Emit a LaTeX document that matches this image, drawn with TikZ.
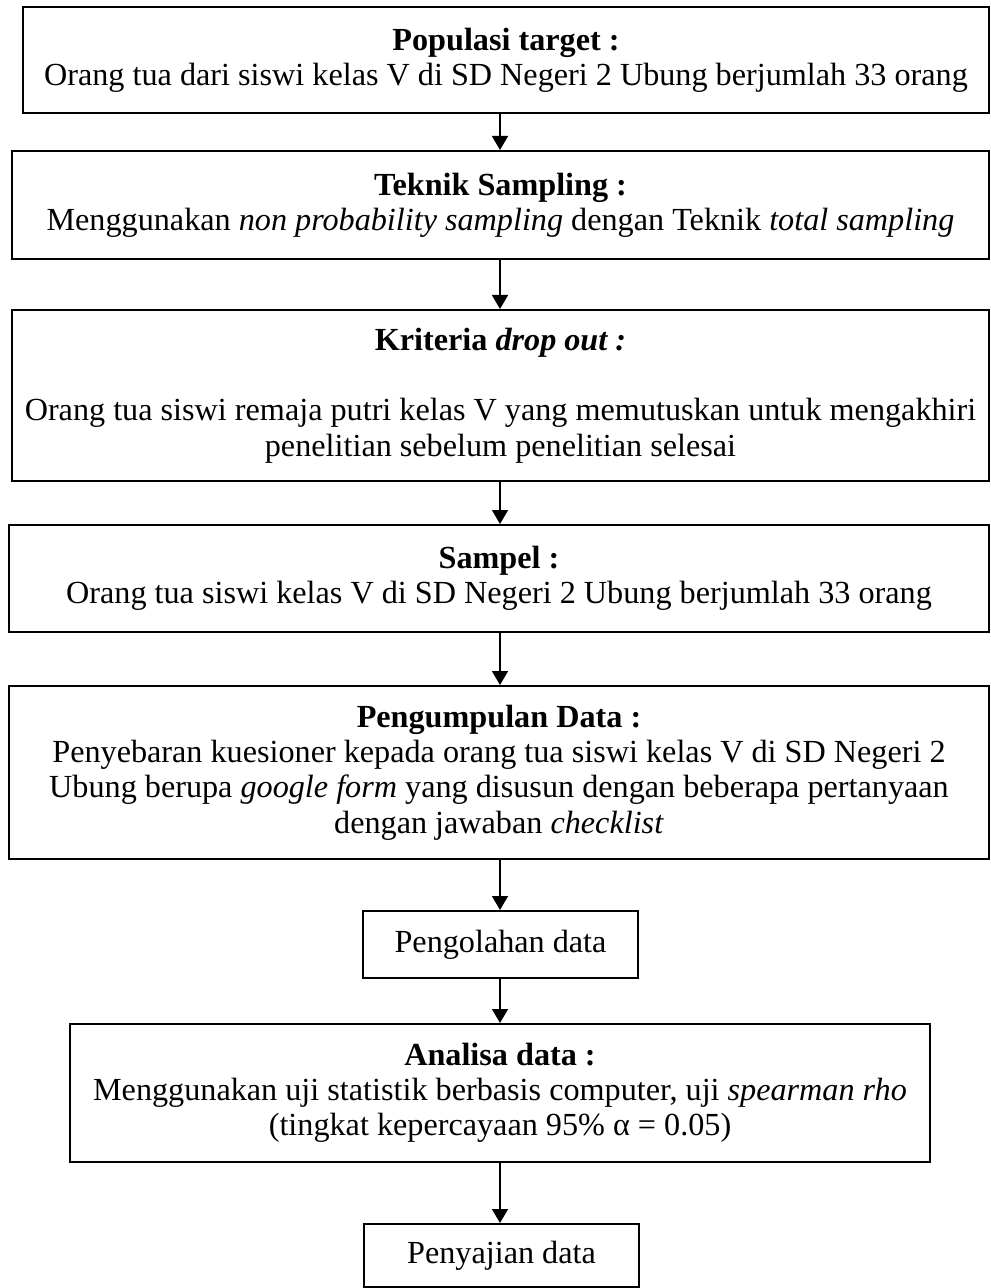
\documentclass[tikz,border=0pt]{standalone}
\usepackage{fontspec}
\setmainfont{Liberation Serif}
\usetikzlibrary{arrows.meta}
\begin{document}
\begin{tikzpicture}[x=0.5pt,y=-0.5pt,
  flowbox/.style={draw=black, line width=1pt, inner sep=0pt, align=center, anchor=north west,
    font=\fontsize{16.1}{17.6}\selectfont},
  flowarrow/.style={-{Triangle[length=7pt,width=8pt]}, line width=0.75pt}]
\useasboundingbox (0,0) rectangle (990,1288);
\coordinate (ax) at (500,0);
\node[flowbox, minimum width=483pt, minimum height=53pt] (pop) at (22,6)
  {\textbf{Populasi target :}\\Orang tua dari siswi kelas V di SD Negeri 2 Ubung berjumlah 33 orang};
\node[flowbox, minimum width=488.5pt, minimum height=54pt] (tek) at (11,150)
  {\textbf{Teknik Sampling :}\\Menggunakan \textit{non probability sampling} dengan Teknik \textit{total sampling}};
\node[flowbox, minimum width=488.5pt, minimum height=85.5pt] (kri) at (11,309)
  {\textbf{Kriteria \textit{drop out :}}\\\mbox{}\\Orang tua siswi remaja putri kelas V yang memutuskan untuk mengakhiri\\penelitian sebelum penelitian selesai};
\node[flowbox, minimum width=490pt, minimum height=53.5pt] (sam) at (8,524)
  {\textbf{Sampel :}\\Orang tua siswi kelas V di SD Negeri 2 Ubung berjumlah 33 orang};
\node[flowbox, minimum width=490pt, minimum height=86.5pt] (pen) at (8,685)
  {\textbf{Pengumpulan Data :}\\Penyebaran kuesioner kepada orang tua siswi kelas V di SD Negeri 2\\Ubung berupa \textit{google form} yang disusun dengan beberapa pertanyaan\\dengan jawaban \textit{checklist}};
\node[flowbox, minimum width=137.5pt, minimum height=33.5pt] (olah) at (362,910)
  {Pengolahan data};
\node[flowbox, minimum width=430pt, minimum height=69pt] (ana) at (69,1023)
  {\textbf{Analisa data :}\\Menggunakan uji statistik berbasis computer, uji \textit{spearman rho}\\(tingkat kepercayaan 95\% α = 0.05)};
\node[flowbox, minimum width=137.5pt, minimum height=31.5pt] (saji) at (363,1223)
  {Penyajian data};
\draw[flowarrow] (pop.south -| ax) -- (tek.north -| ax);
\draw[flowarrow] (tek.south -| ax) -- (kri.north -| ax);
\draw[flowarrow] (kri.south -| ax) -- (sam.north -| ax);
\draw[flowarrow] (sam.south -| ax) -- (pen.north -| ax);
\draw[flowarrow] (pen.south -| ax) -- (olah.north -| ax);
\draw[flowarrow] (olah.south -| ax) -- (ana.north -| ax);
\draw[flowarrow] (ana.south -| ax) -- (saji.north -| ax);
\end{tikzpicture}
\end{document}
